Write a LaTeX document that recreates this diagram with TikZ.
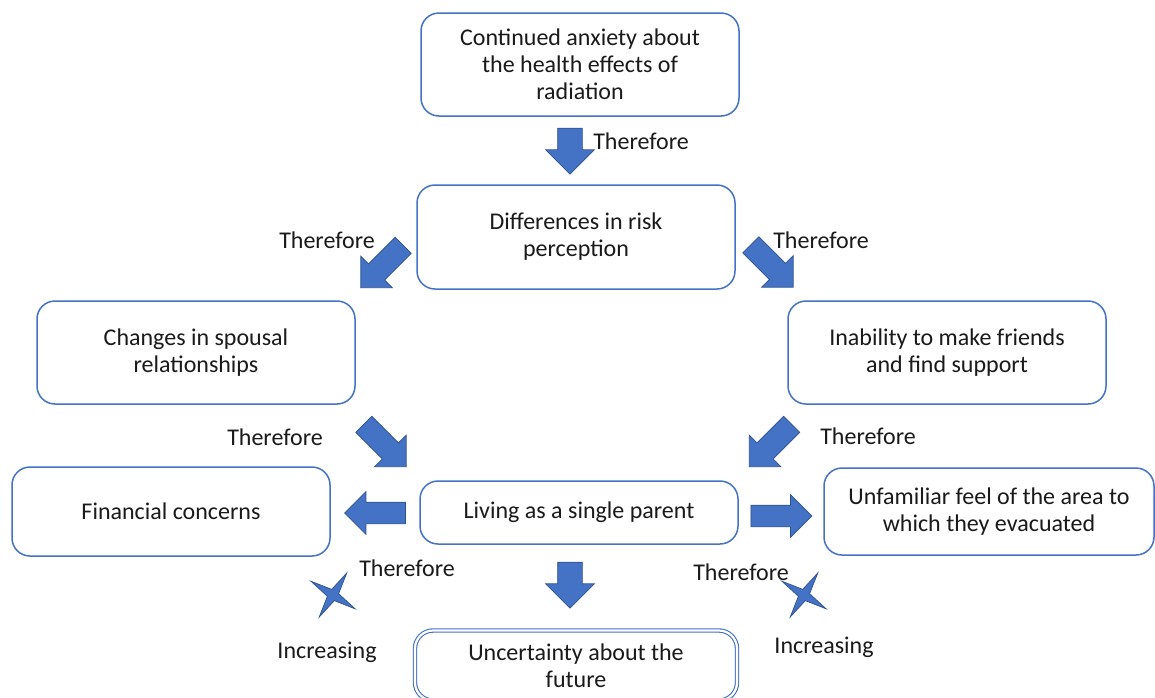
\documentclass[tikz,border=0pt]{standalone}
\usepackage{fontspec}
\setmainfont{Carlito}
\usetikzlibrary{shapes.arrows,shapes.geometric}
\definecolor{boxblue}{HTML}{4472C4}
\definecolor{edgeblue}{HTML}{2F528F}
\definecolor{txt}{HTML}{1A1A1A}
\tikzset{
  box/.style={draw=boxblue, line width=1.5pt, rounded corners=18pt, rectangle,
    align=center, text=txt, font=\fontsize{24}{27}\selectfont, inner sep=0pt},
  dbox/.style={box, double=white, double distance=2.2pt, line width=1.1pt},
  barrow/.style={single arrow, draw=edgeblue, fill=boxblue, line width=0.7pt,
    inner xsep=0pt, single arrow head indent=0pt},
  darrow/.style={barrow, minimum height=60pt, inner ysep=11pt, single arrow head extend=11pt},
  harrow/.style={barrow, minimum height=61pt, inner ysep=10.5pt, single arrow head extend=10.5pt},
  varrow/.style={barrow, minimum height=46pt, inner ysep=12pt, single arrow head extend=12pt},
  lbl/.style={text=txt, font=\fontsize{24}{27}\selectfont, inner sep=0pt},
  sstar/.style={star, star points=4, star point ratio=4.5, minimum size=52pt, inner sep=0pt,
    draw=edgeblue, fill=boxblue, line width=0.7pt, rotate=-32}
}
\begin{document}
\begin{tikzpicture}[x=1pt,y=1pt]
\useasboundingbox[fill=white] (0,0) rectangle (1155,-697);
% boxes
\node[box, minimum width=318pt, minimum height=103pt] (top) at (580,-64.5)
  {Continued anxiety about\\the health effects of\\radiation};
\node[box, minimum width=318pt, minimum height=104pt] (diff) at (576,-237)
  {Differences in risk\\perception};
\node[box, minimum width=318pt, minimum height=103pt] (chg) at (196,-352.5)
  {Changes in spousal\\relationships};
\node[box, minimum width=318pt, minimum height=103pt] (inab) at (947,-352.5)
  {Inability to make friends\\and find support};
\node[box, minimum width=318pt, minimum height=89pt] (fin) at (171,-511.5)
  {Financial concerns};
\node[box, minimum width=318pt, minimum height=63pt] (liv) at (579,-512.5)
  {Living as a single parent};
\node[box, minimum width=330pt, minimum height=87pt] (unf) at (989,-511.5)
  {Unfamiliar feel of the area to\\which they evacuated};
\node[dbox, minimum width=322pt, minimum height=70pt] (unc) at (576,-665.5)
  {Uncertainty about the\\future};
% arrows
\node[varrow, rotate=-90] (a1) at (570,-145) {};
\node[darrow, rotate=-135] (a2) at (386,-262.5) {};
\node[darrow, rotate=-45] (a3) at (768,-262) {};
\node[darrow, rotate=-45] (a4) at (381,-441.5) {};
\node[darrow, rotate=-135] (a5) at (774.5,-441.5) {};
\node[harrow, rotate=180] (a6) at (380.5,-513) {};
\node[harrow] (a7) at (776,-516) {};
\node[varrow, rotate=-90] (a8) at (570,-579) {};
% stars
\node[sstar] (s1) at (333,-595) {};
\node[sstar] (s2) at (804,-595) {};
% labels
\node[lbl] (t1) at (641,-141) {Therefore};
\node[lbl] (t2) at (327,-240) {Therefore};
\node[lbl] (t3) at (821,-240) {Therefore};
\node[lbl] (t4) at (275,-437) {Therefore};
\node[lbl] (t5) at (868,-436) {Therefore};
\node[lbl] (t6) at (407,-568) {Therefore};
\node[lbl] (t7) at (741,-572) {Therefore};
\node[lbl] (i1) at (327,-652) {Increasing};
\node[lbl] (i2) at (824,-647) {Increasing};
\end{tikzpicture}
\end{document}
